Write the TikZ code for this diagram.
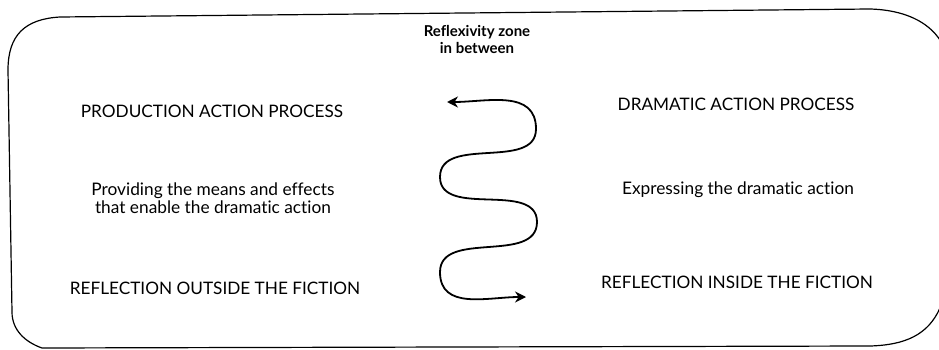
\documentclass[tikz,border=0pt]{standalone}
\usepackage{fontspec}
\setmainfont{Lato}[Ligatures=CommonOff]
\usetikzlibrary{arrows.meta}
\begin{document}
\begin{tikzpicture}[x=1pt,y=1pt,
  frame/.style={line width=1.2pt, line cap=round, line join=round},
  label/.style={inner sep=0pt, anchor=center, font=\fontsize{17.3}{18}\selectfont},
  caps/.style={label, font=\fontsize{17.2}{18}\selectfont},
  wave/.style={line width=1.8pt, {Stealth[length=11pt,width=11pt]}-{Stealth[length=11pt,width=11pt]}}
]
\useasboundingbox (0,0) rectangle (939,-350);
\begin{scope}
\clip (0,0) rectangle (939,-350);
\draw[frame] (940,-40) .. controls (928,-22) and (905,-10) .. (870,-9)
  -- (60,-17) .. controls (25,-19) and (8,-35) .. (8,-70)
  -- (12,-312) .. controls (12,-330) and (25,-342) .. (42,-348)
  -- (870,-346) .. controls (905,-345) and (928,-335) .. (940,-308);
\end{scope}

\node[label, font=\fontsize{15}{17}\selectfont\bfseries, align=center] (zone) at (477,-39) {Reflexivity zone\\in between};

\node[caps] (pap) at (212,-111) {PRODUCTION ACTION PROCESS};
\node[caps] (dap) at (736,-104) {DRAMATIC ACTION PROCESS};
\node[label, align=center] (prov) at (213,-198) {Providing the means and effects\\that enable the dramatic action};
\node[label] (expr) at (738,-190) {Expressing the dramatic action};
\node[caps] (rof) at (215,-288) {REFLECTION OUTSIDE THE FICTION};
\node[caps] (rif) at (737,-282) {REFLECTION INSIDE THE FICTION};

\coordinate (w0) at (447,-102);
\coordinate (w1) at (536,-129);
\coordinate (w2) at (440,-177);
\coordinate (w3) at (537,-222);
\coordinate (w4) at (440,-272);
\coordinate (w5) at (526,-297);
\draw[wave] (w0) to[out=0,in=90,looseness=1.1] (w1)
  to[out=-90,in=90] (w2)
  to[out=-90,in=90] (w3)
  to[out=-90,in=90] (w4)
  to[out=-90,in=180,looseness=1.1] (w5);
\end{tikzpicture}
\end{document}
